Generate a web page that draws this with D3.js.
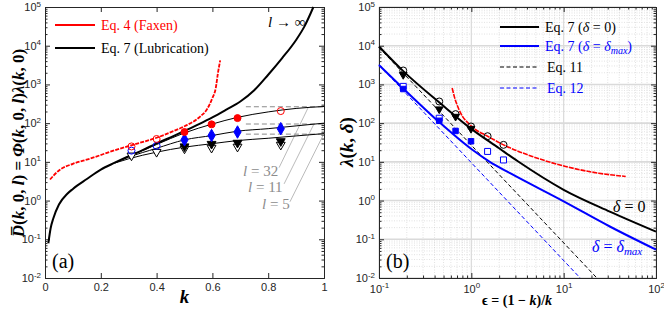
<!DOCTYPE html>
<html>
<head>
<meta charset="utf-8">
<script src="https://cdn.jsdelivr.net/npm/d3@7"></script>
<style>
  body { margin: 0; background: #fff; }
  svg { font-family: "Liberation Serif", "DejaVu Serif", serif; }
  .tick text { font-size: 11px; fill: #262626; }
  .domain, .tick line { stroke: #262626; }
  .curve { fill: none; }
</style>
</head>
<body>
<script>
// ---- panel (a): k vs D(k,0,l) ----
const lubInf = [[0.012, 0.079], [0.02, 0.19], [0.03, 0.35], [0.05, 0.79], [0.08, 1.5], [0.1, 2.0],
  [0.15, 3.6], [0.2, 6.3], [0.25, 9.5], [0.3, 14], [0.35, 20], [0.4, 30], [0.45, 43], [0.5, 63],
  [0.55, 93], [0.6, 141], [0.65, 224], [0.7, 363], [0.75, 708], [0.8, 1780], [0.85, 4790],
  [0.9, 14100], [0.93, 31600], [0.962, 100000]];
const faxenA = [[0.018, 3.5], [0.05, 6.0], [0.1, 8.9], [0.16, 12], [0.25, 20], [0.34, 31], [0.4, 42],
  [0.46, 62], [0.5, 83], [0.556, 148], [0.58, 224], [0.6, 447], [0.612, 800], [0.62, 2000], [0.628, 4170]];
const lub32 = [[0.25, 9.5], [0.3, 13.8], [0.4, 28], [0.5, 56], [0.6, 95], [0.69, 141], [0.8, 195], [0.9, 240], [1.0, 269]];
const lub11 = [[0.25, 9.4], [0.3, 13.2], [0.4, 22.4], [0.5, 37], [0.6, 48], [0.69, 62], [0.8, 72], [0.9, 85], [1.0, 100]];
const lub5 = [[0.25, 9.3], [0.3, 12], [0.4, 17.8], [0.5, 24], [0.6, 29.5], [0.69, 35.5], [0.8, 40.7], [0.9, 46.8], [1.0, 53.7]];
const plateaus = [265, 95, 52];
const plateauStart = 0.72;
const lLabels = ['l = 32', 'l = 11', 'l = 5'];
// leader lines: [k0, D0, k1, D1]
const leaders = [[0.839, 7.1, 0.943, 250], [0.857, 2.7, 0.964, 95], [0.878, 0.93, 1.0, 54]];

const aRedOpen = [[0.31, 25], [0.4, 39], [0.845, 205]];
const aRedFilled = [[0.5, 59], [0.597, 93], [0.69, 135]];
const aBlueOpen = [[0.31, 19.5], [0.4, 26]];
const aBlueDiamond = [[0.5, 37], [0.597, 48], [0.69, 59], [0.845, 72]];
const aTriFilled = [[0.5, 25], [0.597, 29], [0.69, 31], [0.845, 34]];
const aTriOpen = [[0.31, 14.5], [0.4, 18], [0.5, 22], [0.597, 23], [0.69, 24.5], [0.845, 27.5]];

// ---- panel (b): eps vs lambda(k,delta) ----
const delta0 = [[0.1, 9550], [0.182, 2240], [0.468, 316], [1, 71], [2, 22.4], [3.16, 10.5], [10, 1.9], [31.6, 0.52], [100, 0.158]];
const deltaMax = [[0.1, 3160], [0.182, 794], [0.447, 107], [1, 21.4], [1.585, 10], [2.63, 5.1], [10, 0.955], [31.6, 0.214], [100, 0.054]];
const eq11 = [[0.1, 9000], [22.9, 0.01]];
const eq12 = [[0.1, 3200], [15.1, 0.01]];
const faxenB = [[0.62, 810], [0.66, 450], [0.735, 224], [1.02, 81], [1.5, 46], [2.23, 27.5], [4.57, 13.8], [10.5, 7.6], [24, 5.1], [47, 4.2]];

const bCircleOpen = [[0.183, 2290], [0.449, 363], [0.675, 171], [0.992, 82], [1.5, 46], [2.23, 27.5]];
const bTriFilled = [[0.183, 1780], [0.449, 230], [0.675, 148], [0.992, 72]];
const bSqOpen = [[0.183, 890], [0.449, 134], [1.5, 18.6], [2.23, 11.2]];
const bSqFilled = [[0.183, 760], [0.449, 115], [0.675, 63], [0.992, 34]];

const kTicks = [0, 0.2, 0.4, 0.6, 0.8, 1];
const yDecades = [-2, -1, 0, 1, 2, 3, 4, 5];
const xDecades = [-1, 0, 1, 2];

const width = 664;
const height = 316;
const yTop = 7, yBot = 278;
const red = '#ff0000', blue = '#0000ff';

const svg = d3.select('body').append('svg')
  .attr('width', width)
  .attr('height', height);

const xA = d3.scaleLinear().domain([0, 1]).range([45, 324]);
const yA = d3.scaleLog().domain([1e-2, 1e5]).range([yBot, yTop]);
const xB = d3.scaleLog().domain([0.1, 100]).range([379, 656]);
const yB = yA.copy();

const pow = e => Math.pow(10, e);
const minors = decs => {
  const out = [];
  decs.slice(0, -1).forEach(e => { for (let m = 2; m < 10; m++) out.push(m * pow(e)); });
  return out;
};

const supLabels = g => {
  g.selectAll('.tick text').each(function(d) {
    const t = d3.select(this).text(null);
    const e = Math.round(Math.log10(d));
    t.append('tspan').text('10');
    t.append('tspan').attr('dy', '-0.55em').attr('font-size', '8px').text(e);
  });
};

// ---- grid for panel b ----
const grid = svg.append('g');
minors(xDecades).forEach(v => grid.append('line')
  .attr('x1', xB(v)).attr('x2', xB(v)).attr('y1', yTop).attr('y2', yBot)
  .attr('stroke', '#cfcfcf').attr('stroke-width', 0.6).attr('stroke-dasharray', '1,1.5'));
minors(yDecades).forEach(v => grid.append('line')
  .attr('y1', yB(v)).attr('y2', yB(v)).attr('x1', xB.range()[0]).attr('x2', xB.range()[1])
  .attr('stroke', '#cfcfcf').attr('stroke-width', 0.6).attr('stroke-dasharray', '1,1.5'));
xDecades.forEach(e => grid.append('line')
  .attr('x1', xB(pow(e))).attr('x2', xB(pow(e))).attr('y1', yTop).attr('y2', yBot)
  .attr('stroke', '#dadada').attr('stroke-width', 1.2));
yDecades.forEach(e => grid.append('line')
  .attr('y1', yB(pow(e))).attr('y2', yB(pow(e))).attr('x1', xB.range()[0]).attr('x2', xB.range()[1])
  .attr('stroke', '#dadada').attr('stroke-width', 1.6));

// ---- axes ----
const drawYAxes = (xs, ys) => {
  const [l, r] = xs.range();
  const left = svg.append('g').attr('transform', `translate(${l},0)`)
    .call(d3.axisLeft(ys).tickValues(yDecades.map(pow)).tickSize(-5).tickPadding(4).tickFormat(''));
  left.call(supLabels);
  svg.append('g').attr('transform', `translate(${l},0)`)
    .call(d3.axisLeft(ys).tickValues(minors(yDecades)).tickSize(-2.5).tickFormat(''))
    .select('.domain').remove();
  svg.append('g').attr('transform', `translate(${r},0)`)
    .call(d3.axisRight(ys).tickValues(yDecades.map(pow)).tickSize(-5).tickFormat(''));
  svg.append('g').attr('transform', `translate(${r},0)`)
    .call(d3.axisRight(ys).tickValues(minors(yDecades)).tickSize(-2.5).tickFormat(''))
    .select('.domain').remove();
};
drawYAxes(xA, yA);
drawYAxes(xB, yB);

svg.append('g').attr('transform', `translate(0,${yBot})`)
  .call(d3.axisBottom(xA).tickValues(kTicks).tickSize(-5).tickPadding(5).tickFormat(d => d3.format('~g')(d)));
svg.append('g').attr('transform', `translate(0,${yTop})`)
  .call(d3.axisTop(xA).tickValues(kTicks).tickSize(-5).tickFormat(''));

const bx = svg.append('g').attr('transform', `translate(0,${yBot})`)
  .call(d3.axisBottom(xB).tickValues(xDecades.map(pow)).tickSize(-5).tickPadding(7).tickFormat(''));
bx.call(supLabels);
svg.append('g').attr('transform', `translate(0,${yBot})`)
  .call(d3.axisBottom(xB).tickValues(minors(xDecades)).tickSize(-2.5).tickFormat(''))
  .select('.domain').remove();
svg.append('g').attr('transform', `translate(0,${yTop})`)
  .call(d3.axisTop(xB).tickValues(xDecades.map(pow)).tickSize(-5).tickFormat(''));
svg.append('g').attr('transform', `translate(0,${yTop})`)
  .call(d3.axisTop(xB).tickValues(minors(xDecades)).tickSize(-2.5).tickFormat(''))
  .select('.domain').remove();

// ---- curves ----
const lineA = d3.line().x(d => xA(d[0])).y(d => yA(d[1])).curve(d3.curveMonotoneX);
const lineB = d3.line().x(d => xB(d[0])).y(d => yB(d[1])).curve(d3.curveMonotoneX);

const path = (data, gen, color, w, dash) => svg.append('path')
  .datum(data).classed('curve', true)
  .attr('d', gen).attr('stroke', color).attr('stroke-width', w)
  .attr('stroke-dasharray', dash || null);

plateaus.forEach(v => svg.append('line')
  .attr('x1', xA(plateauStart)).attr('x2', xA(1)).attr('y1', yA(v)).attr('y2', yA(v))
  .attr('stroke', '#8a8a8a').attr('stroke-width', 1).attr('stroke-dasharray', '5,3'));
leaders.forEach(d => svg.append('line')
  .attr('x1', xA(d[0])).attr('y1', yA(d[1])).attr('x2', xA(d[2])).attr('y2', yA(d[3]))
  .attr('stroke', '#a8a8a8').attr('stroke-width', 0.8));

path(faxenA, lineA, red, 1.8, '4,1.2');
[lub32, lub11, lub5].forEach(d => path(d, lineA, '#000', 1));
path(lubInf, lineA, '#000', 2);

path(eq11, lineB, '#000', 1, '4,2.5');
path(eq12, lineB, blue, 1, '4,2.5');
path(delta0, lineB, '#000', 2);
path(deltaMax, lineB, blue, 2);
path(faxenB, lineB, red, 1.6, '5,1');

// ---- markers ----
const circles = (data, xs, ys, color, filled) => svg.append('g').selectAll('circle')
  .data(data).join('circle')
  .attr('cx', d => xs(d[0])).attr('cy', d => ys(d[1])).attr('r', 3.5)
  .attr('fill', filled ? color : 'none').attr('stroke', color).attr('stroke-width', 1);
const symbols = (data, xs, ys, type, size, color, filled, rot) => svg.append('g').selectAll('path')
  .data(data).join('path')
  .attr('d', d3.symbol().type(type).size(size))
  .attr('transform', d => `translate(${xs(d[0])},${ys(d[1])}) rotate(${rot || 0})`)
  .attr('fill', filled ? color : '#fff').attr('stroke', color).attr('stroke-width', 1);

symbols(aTriOpen, xA, yA, d3.symbolTriangle, 34, '#000', false, 180);
symbols(aTriFilled, xA, yA, d3.symbolTriangle, 34, '#000', true, 180);
circles(aBlueOpen, xA, yA, blue, false);
symbols(aBlueDiamond, xA, yA, d3.symbolDiamond, 45, blue, true);
circles(aRedOpen, xA, yA, red, false);
circles(aRedFilled, xA, yA, red, true);

circles(bCircleOpen, xB, yB, '#000', false);
symbols(bTriFilled, xB, yB, d3.symbolTriangle, 26, '#000', true, 180);
symbols(bSqOpen, xB, yB, d3.symbolSquare, 36, blue, false);
symbols(bSqFilled, xB, yB, d3.symbolSquare, 30, blue, true);

// ---- text ----
const txt = (x, y, s, size, color, opts = {}) => svg.append('text')
  .attr('x', x).attr('y', y).attr('font-size', size).attr('fill', color || '#000')
  .attr('font-style', opts.italic ? 'italic' : null)
  .attr('font-weight', opts.bold ? 'bold' : null)
  .attr('text-anchor', opts.anchor || 'start')
  .text(s);

const legendA = [['Eq. 4 (Faxen)', red, 25], ['Eq. 7 (Lubrication)', '#000', 48]];
legendA.forEach(([label, c, y]) => {
  svg.append('line').attr('x1', 55).attr('x2', 95).attr('y1', y).attr('y2', y)
    .attr('stroke', c).attr('stroke-width', 2);
  txt(101, y + 5, label, 14, c);
});

const inf = txt(268, 27, '', 15, '#000');
inf.append('tspan').attr('font-style', 'italic').text('l');
inf.append('tspan').text(' → ∞');

const lPos = [[243, 176], [248, 192], [262, 209]];
lLabels.forEach((s, i) => {
  const t = txt(lPos[i][0], lPos[i][1], '', 15, '#8c8c8c');
  t.append('tspan').attr('font-style', 'italic').text(s.slice(0, 1));
  t.append('tspan').text(s.slice(1));
});

txt(52, 268, '(a)', 20, '#000');
txt(386, 268, '(b)', 20, '#000');

// legend b: [parts, colour, y, dash]
const legendB = [
  [[['Eq. 7 (', ''], ['δ', 'i'], [' = 0)', '']], '#000', 27, null],
  [[['Eq. 7 (', ''], ['δ', 'i'], [' = ', ''], ['δ', 'i'], ['max', 'sub'], [')', 'up']], blue, 46, null],
  [[['Eq. 11', '']], '#000', 67, '4,2.5'],
  [[['Eq. 12', '']], blue, 88, '4,2.5']
];
legendB.forEach(([parts, c, y, dash], i) => {
  svg.append('line').attr('x1', 500).attr('x2', 539).attr('y1', y).attr('y2', y)
    .attr('stroke', c).attr('stroke-width', dash ? 1 : 2).attr('stroke-dasharray', dash);
  const t = txt(i > 1 ? 547 : 545, y + 5, '', 14, c);
  parts.forEach(([s, f]) => {
    const sp = t.append('tspan').text(s);
    if (f === 'i') sp.attr('font-style', 'italic');
    if (f === 'sub') sp.attr('font-style', 'italic').attr('font-size', 10).attr('dy', 3);
    if (f === 'up') sp.attr('dy', -3);
  });
});

const d0 = txt(613, 212, '', 16, '#000');
d0.append('tspan').attr('font-style', 'italic').text('δ');
d0.append('tspan').text(' = 0');
const dm = txt(592, 252, '', 16, blue);
dm.append('tspan').attr('font-style', 'italic').text('δ');
dm.append('tspan').text(' = ');
dm.append('tspan').attr('font-style', 'italic').text('δ');
dm.append('tspan').attr('font-style', 'italic').attr('font-size', 11).attr('dy', 3).text('max');

// axis titles
const richText = (x, y, parts, size, rotate) => {
  const t = svg.append('text').attr('x', x).attr('y', y).attr('font-size', size)
    .attr('font-weight', 'bold').attr('text-anchor', 'middle')
    .attr('transform', rotate ? `rotate(-90,${x},${y})` : null);
  parts.forEach(([s, it]) => t.append('tspan').attr('font-style', it ? 'italic' : null).text(s));
  return t;
};
richText(24, 143, [['D\u0305', 1], ['(', 0], ['k', 1], [', 0, ', 0], ['l', 1], [') = ', 0], ['Φ', 1],
  ['(', 0], ['k', 1], [', 0, ', 0], ['l', 1], [')', 0], ['λ', 1], ['(', 0], ['k', 1], [', 0)', 0]], 17, true);
richText(353, 142, [['λ', 1], ['(', 0], ['k', 1], [', ', 0], ['δ', 1], [')', 0]], 19, true);
richText(184.5, 303, [['k', 1]], 19);
richText(517, 305, [['ϵ', 0], [' = (1 − ', 0], ['k', 1], [')/', 0], ['k', 1]], 14);
</script>
</body>
</html>
